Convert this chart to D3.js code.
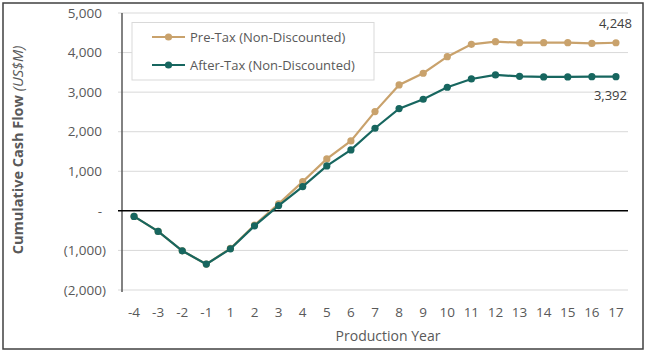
<!DOCTYPE html>
<html>
<head>
<meta charset="utf-8">
<script src="https://cdn.jsdelivr.net/npm/d3@7"></script>
<style>
  body { margin: 0; background: #fff; }
  text { font-family: "Open Sans", "Noto Sans", sans-serif; }
</style>
</head>
<body>
<svg width="650" height="353"></svg>
<script>
// data
const years = ["-4", "-3", "-2", "-1", "1", "2", "3", "4", "5", "6", "7", "8", "9", "10", "11", "12", "13", "14", "15", "16", "17"];
const preTax = [-140, -520, -1010, -1346, -950, -360, 177, 740, 1313, 1768, 2508, 3182, 3477, 3896, 4209, 4275, 4250, 4250, 4250, 4230, 4248];
const afterTax = [-140, -520, -1010, -1346, -960, -379, 134, 614, 1136, 1540, 2088, 2584, 2820, 3124, 3333, 3434, 3400, 3385, 3385, 3390, 3392];
const yTicks = [-2000, -1000, 0, 1000, 2000, 3000, 4000, 5000];
const seriesNames = ["Pre-Tax (Non-Discounted)", "After-Tax (Non-Discounted)"];
const colors = ["#C9A26C", "#17665F"];

const svg = d3.select("svg");

// frame
svg.append("rect")
  .attr("x", 3).attr("y", 3).attr("width", 640).attr("height", 346)
  .attr("fill", "none").attr("stroke", "#404040").attr("stroke-width", 1.5);

const margin = { left: 122, right: 628, top: 13, bottom: 290 };

const x = d3.scalePoint()
  .domain(years)
  .range([margin.left, margin.right])
  .padding(0.5);

const y = d3.scaleLinear()
  .domain([-2000, 5000])
  .range([margin.bottom, margin.top]);

// gridlines
svg.append("g")
  .selectAll("line")
  .data(yTicks.filter(d => d !== 0))
  .join("line")
  .attr("x1", 118).attr("x2", margin.right)
  .attr("y1", d => y(d)).attr("y2", d => y(d))
  .attr("stroke", "#D9D9D9").attr("stroke-width", 1);

// y tick labels (accounting style)
const fmt = d => d === 0 ? "-" : d < 0 ? "(" + d3.format(",")(-d) + ")" : d3.format(",")(d);
svg.append("g")
  .selectAll("text")
  .data(yTicks)
  .join("text")
  .attr("x", d => d < 0 ? 106 : 102)
  .attr("y", d => y(d))
  .attr("dy", "0.35em")
  .attr("text-anchor", "end")
  .attr("font-size", 13.5)
  .attr("fill", "#595959")
  .text(fmt);

// vertical axis line
svg.append("line")
  .attr("x1", margin.left).attr("x2", margin.left)
  .attr("y1", margin.top).attr("y2", margin.bottom + 2)
  .attr("stroke", "#595959").attr("stroke-width", 1.5);

// zero line
svg.append("line")
  .attr("x1", 118).attr("x2", margin.right)
  .attr("y1", y(0)).attr("y2", y(0))
  .attr("stroke", "#000").attr("stroke-width", 1.5);

// x tick labels
svg.append("g")
  .selectAll("text")
  .data(years)
  .join("text")
  .attr("x", d => x(d))
  .attr("y", 312)
  .attr("dy", "0.35em")
  .attr("text-anchor", "middle")
  .attr("font-size", 13.5)
  .attr("fill", "#595959")
  .text(d => d);

// axis titles
svg.append("text")
  .attr("x", 388).attr("y", 336)
  .attr("dy", "0.35em")
  .attr("text-anchor", "middle")
  .attr("font-size", 14)
  .attr("fill", "#595959")
  .text("Production Year");

const yt = svg.append("text")
  .attr("transform", "translate(18,150) rotate(-90)")
  .attr("dy", "0.35em")
  .attr("text-anchor", "middle")
  .attr("font-size", 14.5)
  .attr("fill", "#595959");
yt.append("tspan").attr("font-weight", "bold").text("Cumulative Cash Flow ");
yt.append("tspan").attr("font-style", "italic").text("(US$M)");

// lines and markers
const line = d3.line()
  .x((d, i) => x(years[i]))
  .y(d => y(d));

[preTax, afterTax].forEach((s, k) => {
  svg.append("path")
    .datum(s)
    .attr("d", line)
    .attr("fill", "none")
    .attr("stroke", colors[k])
    .attr("stroke-width", 2.2);
  svg.append("g")
    .selectAll("circle")
    .data(s)
    .join("circle")
    .attr("cx", (d, i) => x(years[i]))
    .attr("cy", d => y(d))
    .attr("r", 3.6)
    .attr("fill", colors[k]);
});

// end labels
svg.append("text")
  .attr("x", 632).attr("y", y(preTax[preTax.length - 1]) - 19)
  .attr("dy", "0.35em").attr("text-anchor", "end")
  .attr("font-size", 13).attr("fill", "#404040")
  .text(d3.format(",")(preTax[preTax.length - 1]));
svg.append("text")
  .attr("x", 627).attr("y", y(afterTax[afterTax.length - 1]) + 19)
  .attr("dy", "0.35em").attr("text-anchor", "end")
  .attr("font-size", 13).attr("fill", "#404040")
  .text(d3.format(",")(afterTax[afterTax.length - 1]));

// legend
const lg = svg.append("g");
lg.append("rect")
  .attr("x", 132).attr("y", 22.5).attr("width", 242).attr("height", 57.5)
  .attr("fill", "#fff").attr("stroke", "#D9D9D9").attr("stroke-width", 1);
seriesNames.forEach((n, k) => {
  const ly = 37 + k * 28;
  lg.append("line")
    .attr("x1", 152).attr("x2", 185).attr("y1", ly).attr("y2", ly)
    .attr("stroke", colors[k]).attr("stroke-width", 2.2);
  lg.append("circle")
    .attr("cx", 168.5).attr("cy", ly).attr("r", 3.6).attr("fill", colors[k]);
  lg.append("text")
    .attr("x", 190).attr("y", ly).attr("dy", "0.35em")
    .attr("font-size", 13).attr("fill", "#595959")
    .text(n);
});
</script>
</body>
</html>
